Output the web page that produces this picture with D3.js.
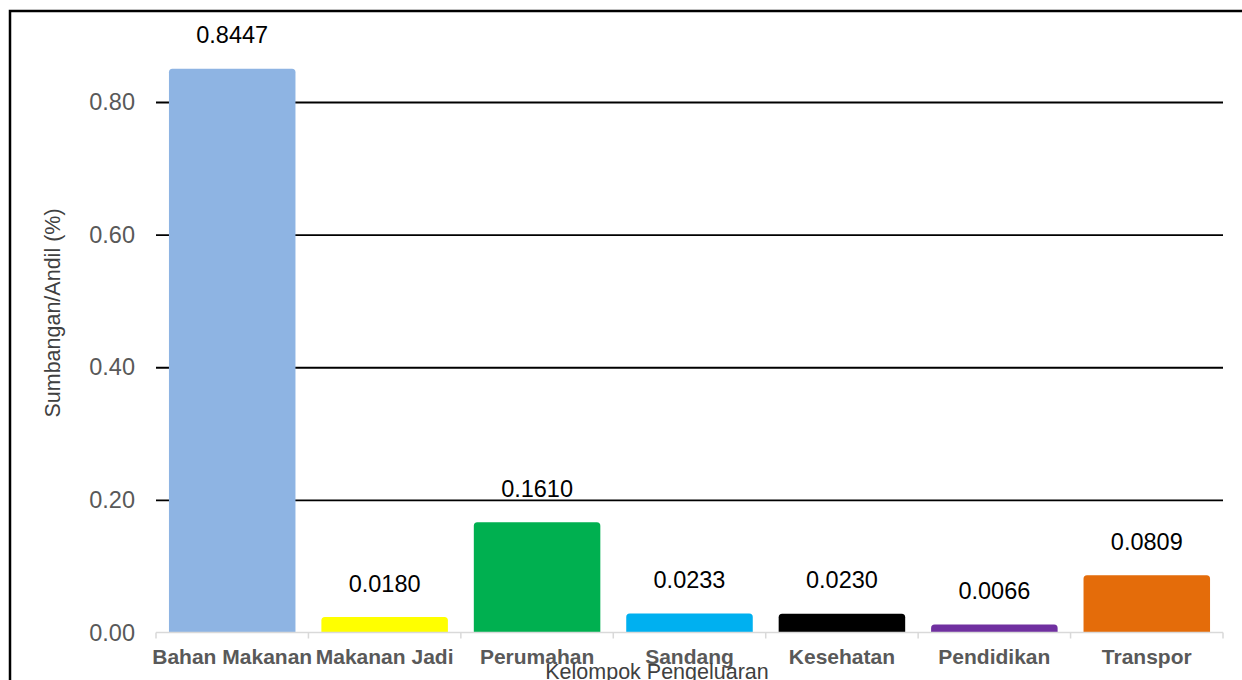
<!DOCTYPE html>
<html><head><meta charset="utf-8">
<script src="https://cdn.jsdelivr.net/npm/d3@7"></script>
<style>body{margin:0;background:#fff}svg{display:block}</style>
</head><body><svg id="c" width="1242" height="680"></svg>
<script>
const categories = ["Bahan Makanan","Makanan Jadi","Perumahan","Sandang","Kesehatan","Pendidikan","Transpor"];
const values = [0.8447,0.0180,0.1610,0.0233,0.0230,0.0066,0.0809];
const valueLabels = ["0.8447","0.0180","0.1610","0.0233","0.0230","0.0066","0.0809"];
const colors = ["#8EB4E3","#FFFF00","#00B050","#00B0F0","#000000","#7030A0","#E46C0A"];
const yTicks = [0,0.2,0.4,0.6,0.8];
const yTitle = "Sumbangan/Andil (%)";
const xTitle = "Kelompok Pengeluaran";

const svg = d3.select("#c");
const font = "'Liberation Sans', Arial, sans-serif";
const left = 156, right = 1223, base = 632.5;
const y = d3.scaleLinear().domain([0,0.8]).range([base,102]);
const x = d3.scaleBand().domain(categories).range([left,right]).paddingInner(0.17).paddingOuter(0.085);

// border
svg.append("rect").attr("x",10).attr("y",11).attr("width",1260).attr("height",700)
  .attr("fill","none").attr("stroke","#000").attr("stroke-width",2.5);

// gridlines + y tick labels
const gy = svg.append("g").attr("transform",`translate(${left},0)`)
  .call(d3.axisLeft(y).tickValues(yTicks).tickFormat(d3.format(".2f")).tickSize(-(right-left)).tickPadding(21));
gy.select(".domain").remove();
gy.selectAll(".tick line").attr("stroke","#000").attr("stroke-width",1.8)
  .attr("display",d=>d===0?"none":null);
gy.selectAll(".tick text").attr("font-family",font).attr("font-size",23.5).attr("fill","#595959");

// bars (outline of same colour gives rounded, slightly enlarged tops)
const ow = 3.5;
svg.append("g").selectAll("path").data(values).join("path")
  .attr("fill",(d,i)=>colors[i])
  .attr("d",(d,i)=>{
    const x0 = x(categories[i]), w = x.bandwidth(), y0 = y(d) - ow, r = ow;
    return `M${x0},${base}V${y0+r}Q${x0},${y0} ${x0+r},${y0}H${x0+w-r}Q${x0+w},${y0} ${x0+w},${y0+r}V${base}Z`;
  });

// x axis
const xb = d3.scaleLinear().domain([0,categories.length]).range([left,right]);
const ax = svg.append("g");
ax.append("line").attr("x1",left).attr("x2",right).attr("y1",base).attr("y2",base)
  .attr("stroke","#d9d9d9").attr("stroke-width",1.5);
ax.selectAll("line.t").data(d3.range(categories.length+1)).join("line").attr("class","t")
  .attr("x1",d=>xb(d)).attr("x2",d=>xb(d)).attr("y1",base).attr("y2",base+6)
  .attr("stroke","#d9d9d9").attr("stroke-width",1.5);
ax.selectAll("text").data(categories).join("text")
  .attr("x",d=>x(d)+x.bandwidth()/2).attr("y",664).attr("text-anchor","middle")
  .attr("font-family",font).attr("font-size",21).attr("font-weight","bold").attr("fill","#595959")
  .text(d=>d);

// value labels
svg.append("g").selectAll("text").data(values).join("text")
  .attr("x",(d,i)=>x(categories[i])+x.bandwidth()/2).attr("y",d=>y(d)-29)
  .attr("text-anchor","middle").attr("font-family",font).attr("font-size",23.5).attr("fill","#000")
  .text((d,i)=>valueLabels[i]);

// titles
svg.append("text").attr("x",657).attr("y",679).attr("text-anchor","middle")
  .attr("font-family",font).attr("font-size",21.5).attr("fill","#404040").text(xTitle);
svg.append("text").attr("transform","translate(60,313) rotate(-90)").attr("text-anchor","middle")
  .attr("font-family",font).attr("font-size",21.5).attr("fill","#404040").text(yTitle);
</script></body></html>
